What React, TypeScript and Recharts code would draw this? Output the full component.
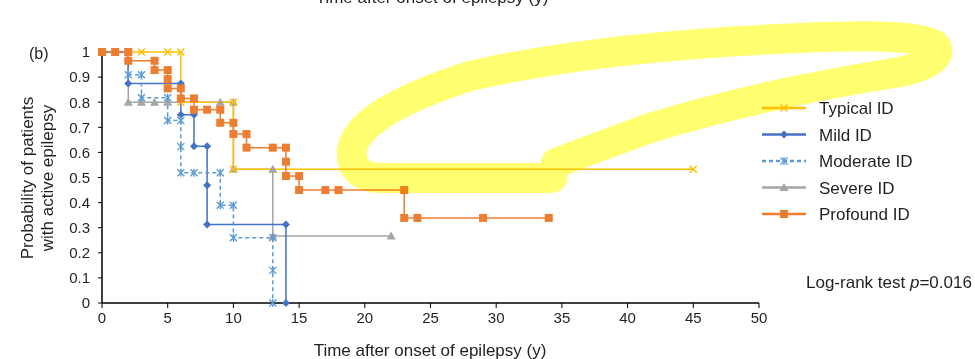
import { Customized, Line, LineChart, XAxis, YAxis } from "recharts";

// Kaplan-Meier steps: [time (y), probability]
const typicalId = [
  [0, 1], [3, 1], [5, 1], [6, 1], [6, 0.8], [10, 0.8], [10, 0.533], [45, 0.533]
];
const mildId = [
  [0, 1], [2, 1], [2, 0.875], [6, 0.875], [6, 0.75], [7, 0.75], [7, 0.625], [8, 0.625],
  [8, 0.469], [8, 0.3125], [14, 0.3125], [14, 0]
];
const moderateId = [
  [0, 1], [2, 1], [2, 0.909], [3, 0.909], [3, 0.818], [5, 0.818], [5, 0.727], [6, 0.727],
  [6, 0.623], [6, 0.519], [7, 0.519], [9, 0.519], [9, 0.389], [10, 0.389], [10, 0.26],
  [13, 0.26], [13, 0.13], [13, 0]
];
const severeId = [
  [0, 1], [1, 1], [2, 1], [2, 0.8], [3, 0.8], [4, 0.8], [5, 0.8], [9, 0.8], [10, 0.8],
  [10, 0.533], [13, 0.533], [13, 0.267], [22, 0.267]
];
const profoundId = [
  [0, 1], [1, 1], [2, 1], [2, 0.965], [4, 0.965], [4, 0.928], [5, 0.928], [5, 0.892],
  [5, 0.855], [6, 0.855], [6, 0.815], [7, 0.815], [7, 0.77], [8, 0.77], [9, 0.77],
  [9, 0.718], [10, 0.718], [10, 0.673], [11, 0.673], [11, 0.619], [13, 0.619], [14, 0.619],
  [14, 0.563], [14, 0.506], [15, 0.506], [15, 0.45], [17, 0.45], [18, 0.45], [23, 0.45],
  [23, 0.339], [24, 0.339], [29, 0.339], [34, 0.339]
];

const xTicks = [0, 5, 10, 15, 20, 25, 30, 35, 40, 45, 50];
const yTicks = [0, 0.1, 0.2, 0.3, 0.4, 0.5, 0.6, 0.7, 0.8, 0.9, 1];

const FONT = "'Liberation Sans', Arial, sans-serif";
const TEXT = "#231f20";

const toRows = (pts: number[][]) => pts.map(([t, p]) => ({ t, p }));

type MarkerKind = "cross" | "diamond" | "star" | "triangle" | "square";

function Marker({ kind, cx, cy, color }: { kind: MarkerKind; cx: number; cy: number; color: string }) {
  if (cx == null || cy == null) return null;
  const s = 3.5;
  switch (kind) {
    case "cross":
      return (
        <g stroke={color} strokeWidth={1.5}>
          <line x1={cx - s} y1={cy - s} x2={cx + s} y2={cy + s} />
          <line x1={cx - s} y1={cy + s} x2={cx + s} y2={cy - s} />
        </g>
      );
    case "star":
      return (
        <g stroke={color} strokeWidth={1.4}>
          <line x1={cx - s} y1={cy - s} x2={cx + s} y2={cy + s} />
          <line x1={cx - s} y1={cy + s} x2={cx + s} y2={cy - s} />
          <line x1={cx} y1={cy - s - 0.5} x2={cx} y2={cy + s + 0.5} />
        </g>
      );
    case "diamond":
      return <path d={`M${cx},${cy - 4}L${cx + 4},${cy}L${cx},${cy + 4}L${cx - 4},${cy}Z`} fill={color} />;
    case "triangle":
      return <path d={`M${cx},${cy - 4.5}L${cx + 4.5},${cy + 3.5}L${cx - 4.5},${cy + 3.5}Z`} fill={color} />;
    default:
      return <rect x={cx - 4} y={cy - 4} width={8} height={8} fill={color} />;
  }
}

const series = [
  { key: "severe", name: "Severe ID", data: severeId, color: "#a5a5a5", kind: "triangle" as MarkerKind, dash: undefined },
  { key: "typical", name: "Typical ID", data: typicalId, color: "#ffc000", kind: "cross" as MarkerKind, dash: undefined },
  { key: "mild", name: "Mild ID", data: mildId, color: "#4472c4", kind: "diamond" as MarkerKind, dash: undefined },
  { key: "moderate", name: "Moderate ID", data: moderateId, color: "#5b9bd5", kind: "star" as MarkerKind, dash: "4 3" },
  { key: "profound", name: "Profound ID", data: profoundId, color: "#ed7d31", kind: "square" as MarkerKind, dash: undefined }
];
const legendOrder = ["typical", "mild", "moderate", "severe", "profound"];

function Texts() {
  return (
    <g fontFamily={FONT} fill={TEXT}>
      <text x={29} y={59} fontSize={16}>(b)</text>
      <text x={430} y={356} fontSize={17} textAnchor="middle">Time after onset of epilepsy (y)</text>
      <text transform="translate(33,178) rotate(-90)" fontSize={17} textAnchor="middle">Probability of patients</text>
      <text transform="translate(53,178) rotate(-90)" fontSize={17} textAnchor="middle">with active epilepsy</text>
      <text x={806} y={288} fontSize={17}>
        Log-rank test <tspan fontStyle="italic">p</tspan>=0.016
      </text>
    </g>
  );
}

function LegendBox() {
  return (
    <g fontFamily={FONT} fill={TEXT}>
      {legendOrder.map((k, i) => {
        const s = series.find((d) => d.key === k)!;
        const y = 108 + i * 26.5;
        return (
          <g key={k}>
            <line x1={762} x2={806} y1={y} y2={y} stroke={s.color} strokeWidth={2.5} strokeDasharray={s.dash} />
            <Marker kind={s.kind} cx={784} cy={y} color={s.color} />
            <text x={819} y={y + 6} fontSize={17}>{s.name}</text>
          </g>
        );
      })}
    </g>
  );
}

export default function App() {
  return (
    <div style={{ position: "absolute", left: 0, top: 0, width: 975, height: 359, background: "#fff" }}>
      <LineChart width={975} height={359} margin={{ top: 52, right: 216, bottom: 0, left: 0 }}>
        <XAxis
          type="number"
          dataKey="t"
          domain={[0, 50]}
          ticks={xTicks}
          height={56}
          interval={0}
          tickSize={5}
          tickMargin={4}
          axisLine={{ stroke: "#000", strokeWidth: 1.5 }}
          tickLine={{ stroke: "#000" }}
          tick={{ fill: TEXT, fontSize: 15, fontFamily: FONT }}
        />
        <YAxis
          type="number"
          domain={[0, 1]}
          ticks={yTicks}
          width={102}
          interval={0}
          tickSize={4}
          tickMargin={8}
          tickFormatter={(v: number) => String(+v.toFixed(1))}
          axisLine={{ stroke: "#000", strokeWidth: 1.5 }}
          tickLine={{ stroke: "#000" }}
          tick={{ fill: TEXT, fontSize: 15, fontFamily: FONT }}
        />
        {series.map((s) => (
          <Line
            key={s.key}
            data={toRows(s.data)}
            dataKey="p"
            name={s.name}
            type="linear"
            stroke={s.color}
            strokeWidth={1.5}
            strokeDasharray={s.dash}
            isAnimationActive={false}
            dot={(p: any) => <Marker key={`${s.key}-${p.index}`} kind={s.kind} cx={p.cx} cy={p.cy} color={s.color} />}
            activeDot={false}
          />
        ))}
        <Customized component={() => <><Texts /><LegendBox /></>} />
      </LineChart>
      <svg
        width={975}
        height={359}
        style={{ position: "absolute", left: 0, top: 0, pointerEvents: "none", mixBlendMode: "multiply" }}
      >
        <text x={432} y={3} fontSize={17} fontFamily={FONT} fill={TEXT} textAnchor="middle">
          Time after onset of epilepsy (y)
        </text>
        <path
          d="M552,178 L378,178 Q350,176 352,150 Q358,112 470,76 Q600,46 800,38 Q918,32 936,46 Q944,62 900,72 Q760,94 650,128 Q590,150 556,163"
          fill="none"
          stroke="#ffff70"
          strokeWidth={30}
          strokeLinecap="round"
          strokeLinejoin="round"
        />
      </svg>
    </div>
  );
}
